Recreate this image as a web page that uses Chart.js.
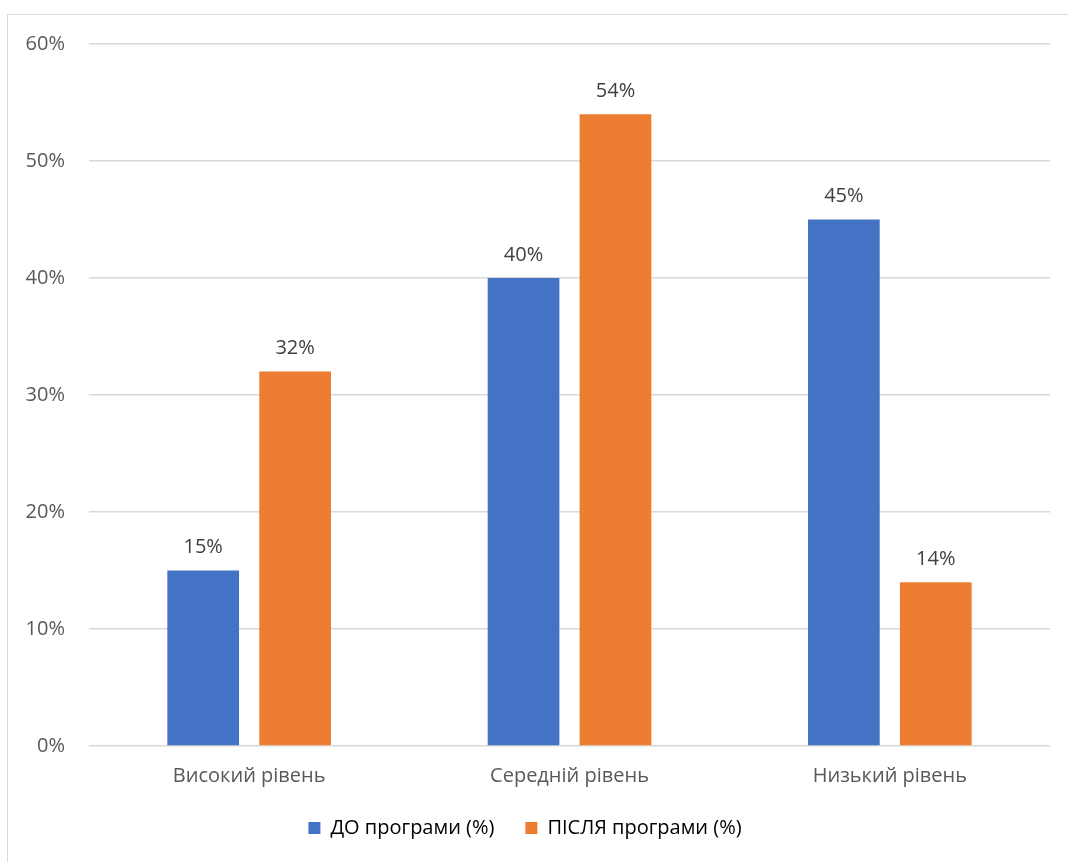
<!DOCTYPE html>
<html>
<head>
<meta charset="utf-8">
<script src="https://cdn.jsdelivr.net/npm/chart.js@4/dist/chart.umd.min.js"></script>
<style>
    body { margin: 0; background: #fff; }
    .frame {
        position: absolute;
        left: 7px;
        top: 14px;
        width: 1080px;
        height: 880px;
        border: 1px solid #d9d9d9;
    }
    .chart_container {
        position: absolute;
        left: 0;
        top: 0;
        width: 1068px;
        height: 862px;
    }
</style>
</head>
<body>
<div class="frame"></div>
<div class="chart_container">
    <canvas id="levelChart" width="1068" height="862"></canvas>
</div>
<script>
const levels = ["Високий рівень", "Середній рівень", "Низький рівень"];
const before = [15, 40, 45];
const after = [32, 54, 14];
const yTicks = [0, 10, 20, 30, 40, 50, 60];

const textFont = "'Open Sans', 'DejaVu Sans', sans-serif";

// percentages above every bar
const valueLabels = {
    id: "valueLabels",
    afterDatasetsDraw(chart) {
        const ctx = chart.ctx;
        ctx.save();
        ctx.font = "20px " + textFont;
        ctx.fillStyle = "#404040";
        ctx.textAlign = "center";
        ctx.textBaseline = "bottom";
        chart.data.datasets.forEach((ds, i) => {
            chart.getDatasetMeta(i).data.forEach((bar, j) => {
                ctx.fillText(ds.data[j] + "%", bar.x, bar.y - 13);
            });
        });
        ctx.restore();
    },
};

const data = {
    labels: levels,
    datasets: [
        {
            label: "ДО програми (%)",
            data: before,
            backgroundColor: "#4472c4",
            categoryPercentage: 0.574,
            barPercentage: 0.78,
        },
        {
            label: "ПІСЛЯ програми (%)",
            data: after,
            backgroundColor: "#ed7d31",
            categoryPercentage: 0.574,
            barPercentage: 0.78,
        },
    ],
};

const levelChart = new Chart("levelChart", {
    type: "bar",
    data: data,
    options: {
        responsive: false,
        animation: false,
        layout: {
            padding: { top: 44, right: 18, bottom: 14, left: 0 },
        },
        plugins: {
            tooltip: { enabled: false },
            legend: {
                position: "bottom",
                labels: {
                    color: "#595959",
                    font: { family: textFont, size: 20 },
                    boxWidth: 12,
                    boxHeight: 12,
                    padding: 31,
                    generateLabels(chart) {
                        return chart.data.datasets.map((ds, i) => ({
                            text: ds.label,
                            fillStyle: ds.backgroundColor,
                            strokeStyle: ds.backgroundColor,
                            lineWidth: 0,
                            datasetIndex: i,
                        }));
                    },
                },
            },
        },
        scales: {
            x: {
                afterFit(scale) {
                    scale.height = 41;
                },
                grid: { display: false, drawTicks: false },
                border: { display: false },
                ticks: {
                    color: "#595959",
                    font: { family: textFont, size: 20 },
                    padding: 18,
                },
            },
            y: {
                min: 0,
                max: 60,
                afterFit(scale) {
                    scale.width = 89;
                },
                afterBuildTicks(scale) {
                    scale.ticks = yTicks.map((v) => ({ value: v }));
                },
                grid: { color: "#d9d9d9", lineWidth: 1.5, drawTicks: false },
                border: { display: false },
                ticks: {
                    color: "#595959",
                    font: { family: textFont, size: 20 },
                    padding: 24,
                    callback: (v) => v + "%",
                },
            },
        },
    },
    plugins: [valueLabels],
});
</script>
</body>
</html>
